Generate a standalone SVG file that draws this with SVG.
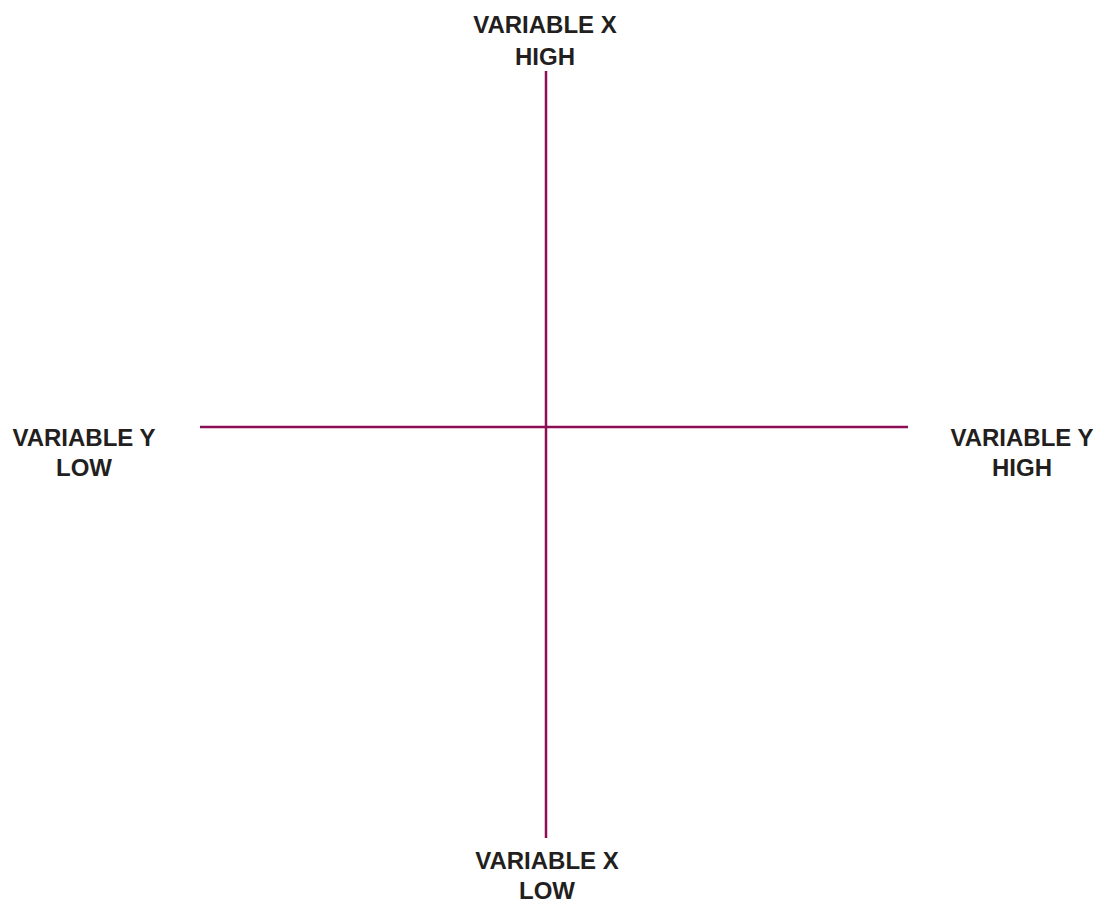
<svg xmlns="http://www.w3.org/2000/svg" width="1101" height="904" viewBox="0 0 1101 904">
<style>
.lbl{font-family:"Liberation Sans",Arial,sans-serif;font-weight:bold;font-size:24px;fill:#231f20;text-anchor:middle}
.axis{stroke:#8c0f55;stroke-width:2.5;fill:none}
</style>
<rect width="1101" height="904" fill="#ffffff"/>
<g id="connectors">
<line class="axis" x1="546" y1="71" x2="546" y2="838"/>
<line class="axis" x1="200" y1="427" x2="908" y2="427"/>
</g>
<g id="top-label"><text class="lbl" x="545" y="33">VARIABLE X</text><text class="lbl" x="545" y="65">HIGH</text></g>
<g id="left-label"><text class="lbl" x="84" y="446">VARIABLE Y</text><text class="lbl" x="84" y="476">LOW</text></g>
<g id="right-label"><text class="lbl" x="1022" y="446">VARIABLE Y</text><text class="lbl" x="1022" y="476">HIGH</text></g>
<g id="bottom-label"><text class="lbl" x="547" y="869">VARIABLE X</text><text class="lbl" x="547" y="899">LOW</text></g>
</svg>
